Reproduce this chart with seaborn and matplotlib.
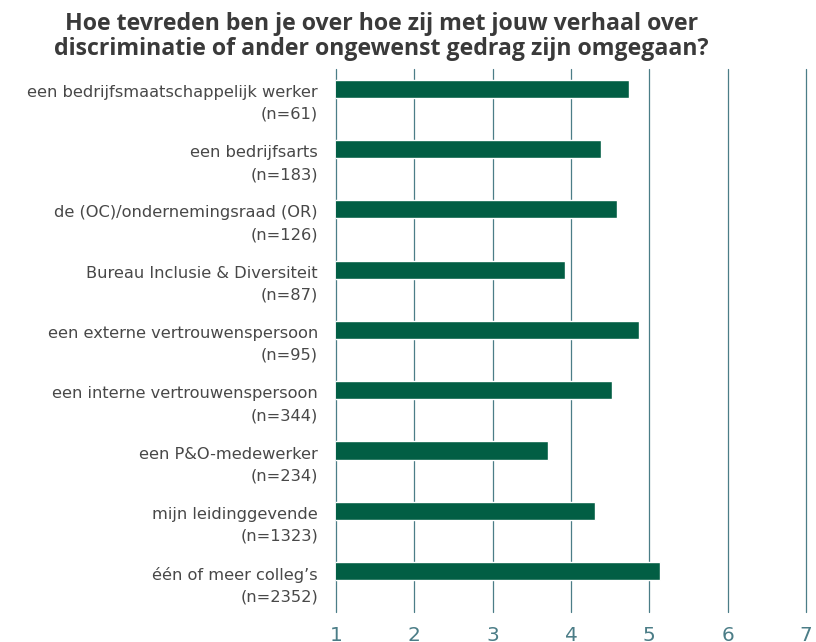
import matplotlib
matplotlib.use('Agg')
import matplotlib.pyplot as plt
from matplotlib.transforms import ScaledTranslation
import pandas as pd
import seaborn as sns

# data
categories = [
    'een bedrijfsmaatschappelijk werker',
    'een bedrijfsarts',
    'de (OC)/ondernemingsraad (OR)',
    'Bureau Inclusie & Diversiteit',
    'een externe vertrouwenspersoon',
    'een interne vertrouwenspersoon',
    'een P&O-medewerker',
    'mijn leidinggevende',
    'één of meer colleg\u2019s',
]
counts = [61, 183, 126, 87, 95, 344, 234, 1323, 2352]
scores = [4.74, 4.38, 4.59, 3.92, 4.87, 4.52, 3.71, 4.31, 5.14]
x_ticks = [1, 2, 3, 4, 5, 6, 7]

TITLE = ('Hoe tevreden ben je over hoe zij met jouw verhaal over\n'
         'discriminatie of ander ongewenst gedrag zijn omgegaan?')
BAR_COLOR = '#025e44'
GRID_COLOR = '#4b7d87'

df = pd.DataFrame({
    'label': [f'{c}\n(n={n})' for c, n in zip(categories, counts)],
    'score': scores,
})

sns.set_style('white')
plt.rcParams['font.family'] = ['DejaVu Sans']

fig = plt.figure(figsize=(8.16, 6.42), dpi=100)
ax = fig.add_axes([0.4118, 0.0467, 0.5759, 0.8458])

sns.barplot(data=df, x='score', y='label', orient='h', color=BAR_COLOR,
            saturation=1, width=0.3, ax=ax, zorder=3)

ax.set_xlim(1, 7)
ax.set_ylim(len(categories) - 1 + 0.68, -0.33)
ax.set_xticks(x_ticks)
ax.set_xticklabels([str(t) for t in x_ticks])
ax.set_xlabel('')
ax.set_ylabel('')

for s in ax.spines.values():
    s.set_visible(False)
for t in x_ticks:
    ax.axvline(t, color=GRID_COLOR, lw=0.9, zorder=1, clip_on=False)

ax.tick_params(axis='x', length=0, pad=10, labelsize=14.5, labelcolor=GRID_COLOR)
ax.tick_params(axis='y', length=0, pad=13, labelsize=11.7, labelcolor='#484848')

# first line of each label sits level with its bar, the (n=..) line below
shift = ScaledTranslation(0, -9.5 / 100, fig.dpi_scale_trans)
for lab in ax.get_yticklabels():
    lab.set_linespacing(1.58)
    lab.set_transform(lab.get_transform() + shift)

fig.text(0.467, 0.943, TITLE, ha='center', va='center', fontsize=16.7,
         fontweight='bold', color='#3a3a3a', linespacing=1.02,
         family=['Open Sans', 'DejaVu Sans'])

fig.savefig('out.png', dpi=100)
